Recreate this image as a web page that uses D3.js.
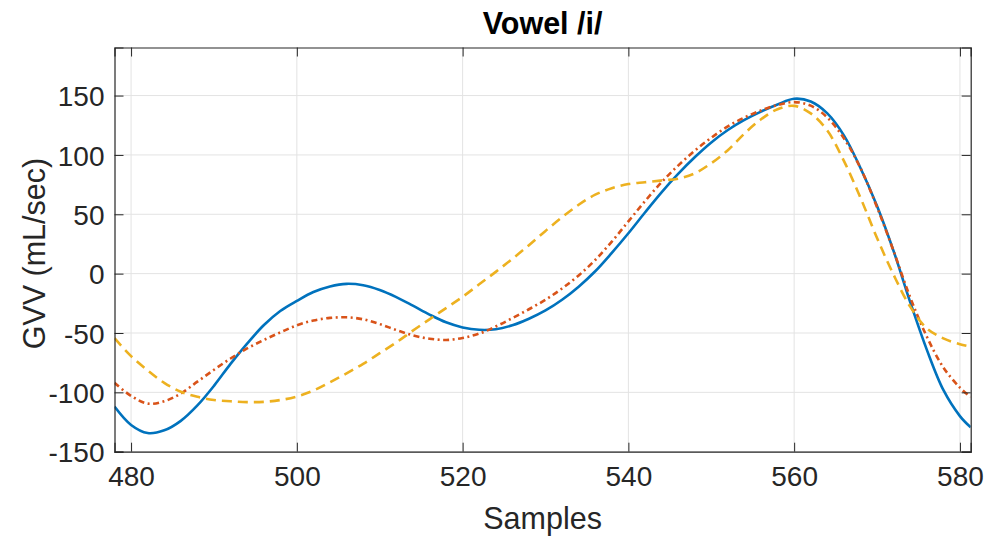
<!DOCTYPE html>
<html>
<head>
<meta charset="utf-8">
<script src="https://cdn.jsdelivr.net/npm/d3@7"></script>
<style>
  html, body { margin: 0; padding: 0; background: #fff; }
  svg { display: block; font-family: "Liberation Sans", Arial, Helvetica, sans-serif; }
</style>
</head>
<body>
<svg id="chart" width="989" height="539"></svg>
<script>
// ---- data ----
const samples = [478,480,482,484,486,488,490,492,494,496,498,500,502,504,506,508,510,512,514,516,518,520,522,524,526,528,530,532,534,536,538,540,542,544,546,548,550,552,554,556,558,560,562,564,566,568,570,572,574,576,578,580,581.3];
const blueVals = [-112,-127.5,-134.3,-132,-124,-111,-94.5,-76,-59,-43.5,-31.5,-23,-15.5,-10.8,-8.6,-9.8,-13.8,-19.8,-27,-34.5,-41,-45.3,-47.3,-46.8,-43.5,-38,-31,-22,-11,2,17.5,34,51.5,68.5,84,98,110.5,121,129.5,136.5,142.5,147.3,145,135,116.5,89,57,19,-24,-64,-98,-120,-129.5];
const orangeVals = [-92,-103,-109.5,-107.5,-101,-91,-81,-71.5,-63,-56,-49.5,-43.5,-39.5,-37.3,-36.8,-38.5,-42.5,-47.5,-52,-54.8,-55.9,-54.2,-50.5,-44.5,-37.5,-30,-22,-12.5,-1.5,11.5,27,44,61,77,91,103.5,114.5,124,131.5,137.5,142,144.5,141.5,131.5,114,89,56,19,-20,-53,-79,-96,-104];
const yellowVals = [-54.4,-69.5,-81.5,-92,-99.5,-103.8,-106.4,-107.5,-108.2,-108,-106.5,-103.5,-98.5,-91.5,-84,-76,-67,-58,-48,-38.5,-29,-19.5,-9,1.5,12.5,24,36,47.5,58,66.5,72,75.5,77,78.5,80,84.5,93,104,118,130,138.5,141.3,135,120.5,95,64,30,-1,-27.8,-46,-54.5,-59.5,-61.5];
const xTicks = [480,500,520,540,560,580];
const yTicks = [-150,-100,-50,0,50,100,150];
const xDomain = [478, 581.3];
const yDomain = [-150, 190.5];
const titleText = "Vowel /i/";
const xLabelText = "Samples";
const yLabelText = "GVV (mL/sec)";

const series = [
  {name: "blue", values: blueVals, color: "#0072BD", dash: null},
  {name: "orange", values: orangeVals, color: "#D95319", dash: "6,3.5,2,3.5"},
  {name: "yellow", values: yellowVals, color: "#EDB120", dash: "10,6"}
];

// ---- layout ----
const svg = d3.select("#chart");
const L = 114.5, T = 47.5, W = 856.2, H = 404.2;
const x = d3.scaleLinear().domain(xDomain).range([L, L + W]);
const y = d3.scaleLinear().domain(yDomain).range([T + H, T]);
const axisColor = "#262626";
const fmt = d => String(d);

// grid
const g = svg.append("g");
g.selectAll(".gx").data(xTicks).enter().append("line")
  .attr("x1", d => x(d)).attr("x2", d => x(d)).attr("y1", T).attr("y2", T + H)
  .attr("stroke", "#e3e3e3").attr("stroke-width", 1);
g.selectAll(".gy").data(yTicks).enter().append("line")
  .attr("y1", d => y(d)).attr("y2", d => y(d)).attr("x1", L).attr("x2", L + W)
  .attr("stroke", "#e3e3e3").attr("stroke-width", 1);

// lines
svg.append("defs").append("clipPath").attr("id", "clip")
  .append("rect").attr("x", L).attr("y", T).attr("width", W).attr("height", H);
const line = d3.line().x((d, i) => x(samples[i])).y(d => y(d)).curve(d3.curveCatmullRom.alpha(0.5));
const lg = svg.append("g").attr("clip-path", "url(#clip)");
series.forEach(s => {
  lg.append("path").datum(s.values)
    .attr("d", line)
    .attr("fill", "none")
    .attr("stroke", s.color)
    .attr("stroke-width", 2.6)
    .attr("stroke-dasharray", s.dash);
});

// axes (ticks inside, on all sides)
const tickLen = 9;
const axB = d3.axisBottom(x).tickValues(xTicks).tickSize(-tickLen).tickPadding(14).tickFormat(fmt);
const axT = d3.axisTop(x).tickValues(xTicks).tickSize(-tickLen).tickFormat("");
const axL = d3.axisLeft(y).tickValues(yTicks).tickSize(-tickLen).tickPadding(10).tickFormat(fmt);
const axR = d3.axisRight(y).tickValues(yTicks).tickSize(-tickLen).tickFormat("");

function style(sel) {
  sel.select(".domain").attr("stroke", axisColor).attr("stroke-width", 1.2);
  sel.selectAll(".tick line").attr("stroke", axisColor).attr("stroke-width", 1);
  sel.selectAll(".tick text").attr("fill", axisColor).attr("font-size", 28)
    .attr("font-family", '"Liberation Sans", Arial, Helvetica, sans-serif');
}
svg.append("g").attr("transform", `translate(0,${T + H})`).call(axB).call(style)
  .call(s => s.selectAll(".tick text").attr("dy", "0.71em"));
svg.append("g").attr("transform", `translate(0,${T})`).call(axT).call(style);
svg.append("g").attr("transform", `translate(${L},0)`).call(axL).call(style)
  .call(s => s.selectAll(".tick text").attr("dy", "0.36em"));
svg.append("g").attr("transform", `translate(${L + W},0)`).call(axR).call(style);

// titles
svg.append("text").attr("x", L + W / 2).attr("y", 33.5)
  .attr("text-anchor", "middle").attr("font-weight", "bold").attr("font-size", 30.5)
  .attr("fill", "#000").text(titleText);
svg.append("text").attr("x", L + W / 2).attr("y", 529)
  .attr("text-anchor", "middle").attr("font-size", 30.5)
  .attr("fill", axisColor).text(xLabelText);
svg.append("text").attr("transform", `translate(45,${T + H / 2 + 4}) rotate(-90)`)
  .attr("text-anchor", "middle").attr("font-size", 30.5)
  .attr("fill", axisColor).text(yLabelText);
</script>
</body>
</html>
